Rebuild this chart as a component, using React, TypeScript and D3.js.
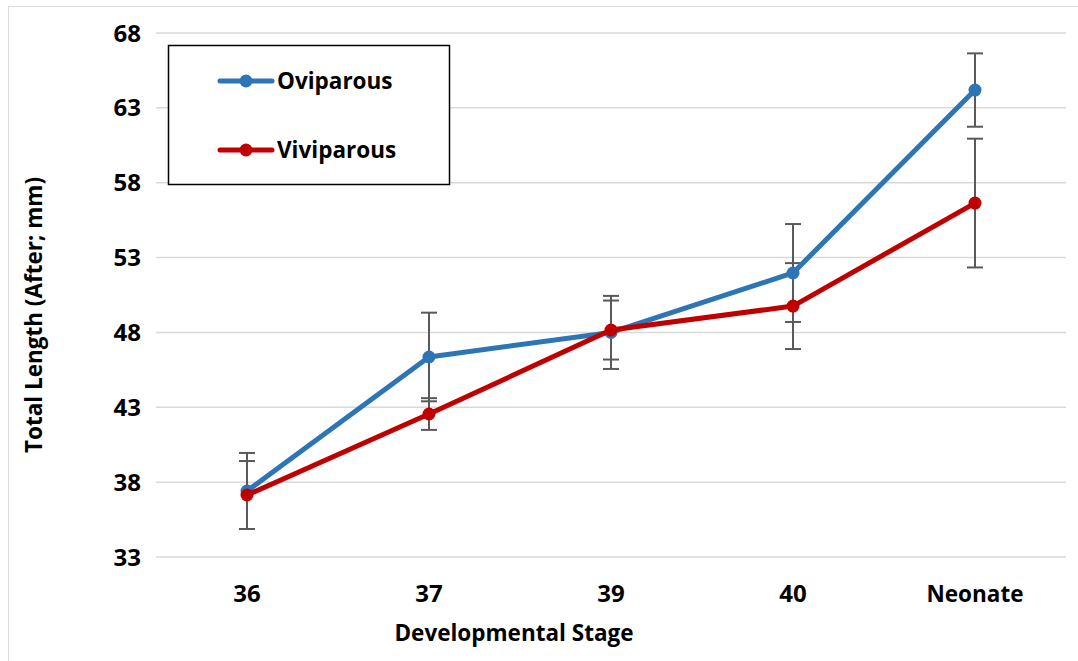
import React from "react";
import * as d3 from "d3";

const stages = ["36", "37", "39", "40", "Neonate"];
const oviparous = [37.41, 46.36, 48.0, 51.97, 64.19];
const oviparousErr = [2.54, 2.96, 2.44, 3.27, 2.45];
const viviparous = [37.14, 42.55, 48.16, 49.76, 56.64];
const viviparousErr = [2.27, 1.06, 1.97, 2.87, 4.3];
const yTicks = [33, 38, 43, 48, 53, 58, 63, 68];

const series = [
  { name: "Oviparous", values: oviparous, errs: oviparousErr, color: "#2E75B6" },
  { name: "Viviparous", values: viviparous, errs: viviparousErr, color: "#C00000" },
];

const W = 1078;
const H = 661;
const font = "'Open Sans', 'Noto Sans', sans-serif";
const fs = 22.5;
const fsNum = 24;

export default function App() {
  const x = d3.scaleBand<string>().domain(stages).range([156, 1066]);
  const y = d3.scaleLinear().domain([33, 68]).range([557, 33]);
  const cx = (s: string) => (x(s) as number) + x.bandwidth() / 2;
  const line = d3
    .line<number>()
    .x((_, i) => cx(stages[i]))
    .y((v) => y(v));

  return (
    <svg
      width={W}
      height={H}
      style={{ position: "absolute", left: 0, top: 0, background: "#fff" }}
    >
      <rect x={8.5} y={6.5} width={W} height={H} fill="#fff" stroke="#d9d9d9" strokeWidth={1} />
      {yTicks.map((t) => (
        <g key={t}>
          <line x1={156} x2={1066} y1={y(t)} y2={y(t)} stroke="#d9d9d9" strokeWidth={1.5} />
          <text
            x={141}
            y={y(t)}
            dy="0.36em"
            textAnchor="end"
            fontFamily={font}
            fontWeight={700}
            fontSize={fsNum}
            fill="#000"
          >
            {t}
          </text>
        </g>
      ))}
      {stages.map((s) => (
        <text
          key={s}
          x={cx(s)}
          y={602}
          textAnchor="middle"
          fontFamily={font}
          fontWeight={700}
          fontSize={/^\d+$/.test(s) ? fsNum : fs}
          fill="#000"
        >
          {s}
        </text>
      ))}
      <text
        x={514}
        y={641}
        textAnchor="middle"
        fontFamily={font}
        fontWeight={700}
        fontSize={fs}
        fill="#000"
      >
        Developmental Stage
      </text>
      <text
        transform={`translate(42,315) rotate(-90)`}
        textAnchor="middle"
        fontFamily={font}
        fontWeight={700}
        fontSize={fs}
        fill="#000"
      >
        Total Length (After; mm)
      </text>
      {series.map((se) => (
        <g key={se.name + "err"}>
          {se.values.map((v, i) => {
            const px = cx(stages[i]);
            const top = y(v + se.errs[i]);
            const bot = y(v - se.errs[i]);
            return (
              <g key={i} stroke="#595959" strokeWidth={2}>
                <line x1={px} x2={px} y1={top} y2={bot} />
                <line x1={px - 8} x2={px + 8} y1={top} y2={top} />
                <line x1={px - 8} x2={px + 8} y1={bot} y2={bot} />
              </g>
            );
          })}
        </g>
      ))}
      {series.map((se) => (
        <g key={se.name}>
          <path d={line(se.values) || ""} fill="none" stroke={se.color} strokeWidth={5} strokeLinejoin="round" />
          {se.values.map((v, i) => (
            <circle key={i} cx={cx(stages[i])} cy={y(v)} r={6.5} fill={se.color} />
          ))}
        </g>
      ))}
      <rect x={168.5} y={45.5} width={281} height={139} fill="#fff" stroke="#000" strokeWidth={1.5} />
      {series.map((se, i) => {
        const ly = 81 + i * 69;
        return (
          <g key={se.name + "leg"}>
            <line x1={220} x2={272} y1={ly} y2={ly} stroke={se.color} strokeWidth={5} strokeLinecap="round" />
            <circle cx={246} cy={ly} r={6.5} fill={se.color} />
            <text
              x={277}
              y={ly}
              dy="0.35em"
              fontFamily={font}
              fontWeight={700}
              fontSize={fs}
              fill="#000"
            >
              {se.name}
            </text>
          </g>
        );
      })}
    </svg>
  );
}
